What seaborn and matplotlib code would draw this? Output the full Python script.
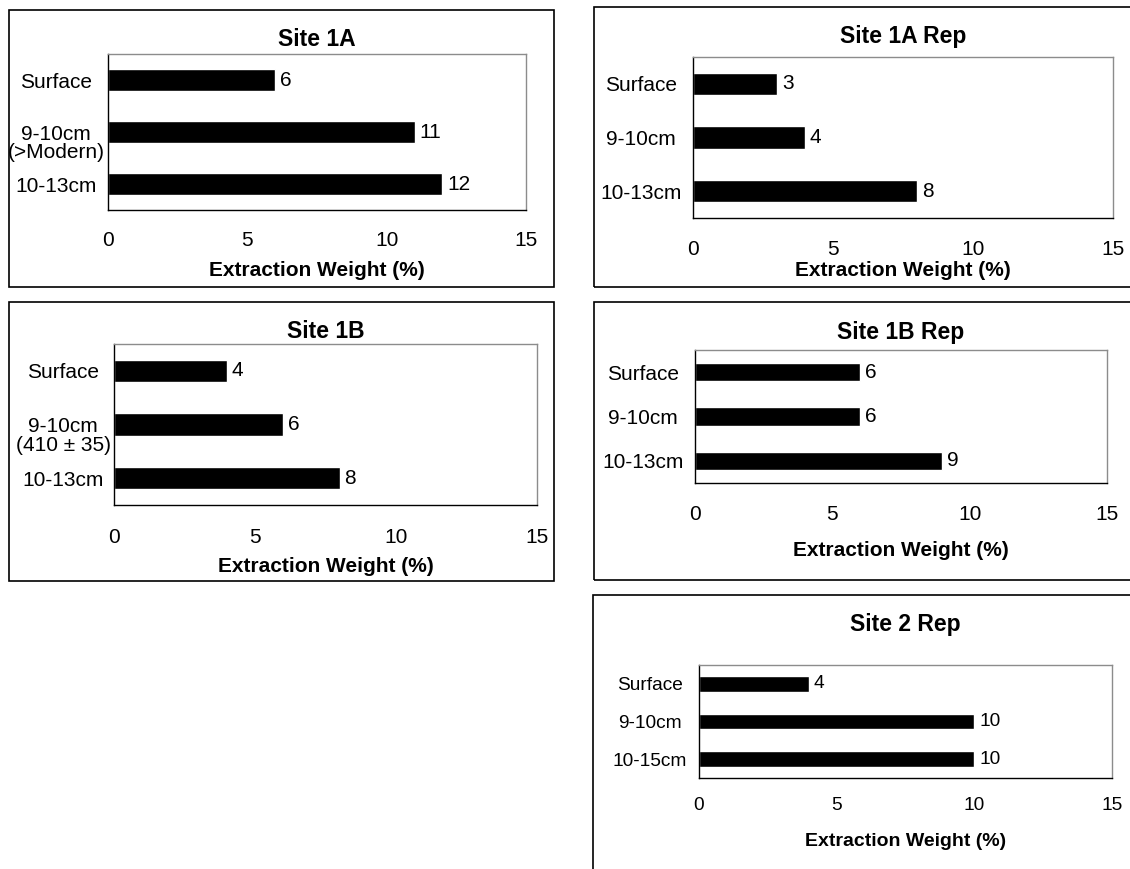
import matplotlib
matplotlib.use('Agg')
import matplotlib.pyplot as plt
import matplotlib.transforms as mtransforms
from matplotlib.patches import Rectangle
import seaborn as sns

# --- data ---
site_1a_labels = ['Surface', '9-10cm\n(>Modern)', '10-13cm']
site_1a_values = [6, 11, 12]

site_1a_rep_labels = ['Surface', '9-10cm', '10-13cm']
site_1a_rep_values = [3, 4, 8]

site_1b_labels = ['Surface', '9-10cm\n(410 \u00b1 35)', '10-13cm']
site_1b_values = [4, 6, 8]

site_1b_rep_labels = ['Surface', '9-10cm', '10-13cm']
site_1b_rep_values = [6, 6, 9]

site_2_rep_labels = ['Surface', '9-10cm', '10-15cm']
site_2_rep_values = [4, 10, 10]

x_ticks = [0, 5, 10, 15]
x_label = 'Extraction Weight (%)'

# --- layout (pixels in a 1130x869 figure) ---
W, H = 1130, 869
panels = [
    dict(title='Site 1A', labels=site_1a_labels, values=site_1a_values,
         box=(9, 10, 554, 287), ax=(108, 54, 526, 210), title_y=38, xlabel_y=268,
         ypad=37.4, xpad=12.3, fs=15, xfs=15),
    dict(title='Site 1A Rep', labels=site_1a_rep_labels, values=site_1a_rep_values,
         box=(594, 7, 1140, 287), ax=(693, 57, 1113, 218), title_y=35, xlabel_y=268,
         ypad=37.4, xpad=13.0, fs=15, xfs=15),
    dict(title='Site 1B', labels=site_1b_labels, values=site_1b_values,
         box=(9, 302, 554, 581), ax=(114, 344, 537, 505), title_y=329, xlabel_y=564,
         ypad=36.7, xpad=13.7, fs=15, xfs=15),
    dict(title='Site 1B Rep', labels=site_1b_rep_labels, values=site_1b_rep_values,
         box=(594, 302, 1140, 580), ax=(695, 350, 1107, 483), title_y=330, xlabel_y=549,
         ypad=37.4, xpad=13.0, fs=15, xfs=15),
    dict(title='Site 2 Rep', labels=site_2_rep_labels, values=site_2_rep_values,
         box=(593, 595, 1140, 880), ax=(699, 665, 1112, 778), title_y=623, xlabel_y=840,
         ypad=35.3, xpad=10.7, fs=13.8, xfs=14),
]

sns.set_style('white')
plt.rcParams['font.family'] = ['Liberation Sans', 'DejaVu Sans']
for key in ['text.color', 'axes.labelcolor', 'xtick.color', 'ytick.color']:
    plt.rcParams[key] = 'black'

fig = plt.figure(figsize=(W / 100, H / 100), dpi=100)

for p in panels:
    # frame around each chart
    bx0, by0, bx1, by1 = p['box']
    fig.add_artist(Rectangle((bx0 / W, 1 - by1 / H), (bx1 - bx0) / W, (by1 - by0) / H,
                             transform=fig.transFigure, fill=False, ec='black',
                             lw=1.2, clip_on=False))

    L, T, R, B = p['ax']
    ax = fig.add_axes([L / W, 1 - B / H, (R - L) / W, (B - T) / H])
    sns.barplot(x=p['values'], y=p['labels'], orient='h', color='black',
                saturation=1, width=0.42, ax=ax)

    ax.set_xlim(0, 15)
    ax.set_xticks(x_ticks)
    ax.set_ylim(2.5, -0.5)
    ax.set_yticks(range(len(p['labels'])))
    ax.set_yticklabels(p['labels'], ha='center', multialignment='center', linespacing=1.0)
    ax.set_yticks([-0.5, 0.5, 1.5, 2.5], minor=True)
    ax.tick_params(axis='y', which='major', length=0, pad=p['ypad'], labelsize=p['fs'])
    ax.tick_params(axis='y', which='minor', length=3.8, width=1, direction='out', color='black')
    ax.tick_params(axis='x', which='major', length=3, width=1, direction='out',
                   pad=p['xpad'], labelsize=p['fs'], color='black')

    # two-line labels: first line sits on the bar, second hangs below (Excel style)
    for lab in ax.get_yticklabels():
        if '\n' in lab.get_text():
            lab.set_transform(lab.get_transform() +
                              mtransforms.ScaledTranslation(0, -0.095, fig.dpi_scale_trans))

    for side in ['top', 'right']:
        ax.spines[side].set_color('#8c8c8c')
        ax.spines[side].set_linewidth(1)
    for side in ['left', 'bottom']:
        ax.spines[side].set_color('black')
        ax.spines[side].set_linewidth(1.0)

    ax.bar_label(ax.containers[0], padding=3.5, fontsize=p['fs'], color='black')

    ax.set_ylabel('')
    ax.set_title(p['title'], fontsize=16.5, fontweight='bold', pad=0,
                 y=(B - (p['title_y'] + 2)) / (B - T), va='center')
    ax.set_xlabel(x_label, fontsize=p['xfs'], fontweight='bold')
    ax.xaxis.set_label_coords(0.5, (B - (p['xlabel_y'] + 2)) / (B - T))
    ax.xaxis.label.set_va('center')

fig.savefig('out.png', dpi=100)
